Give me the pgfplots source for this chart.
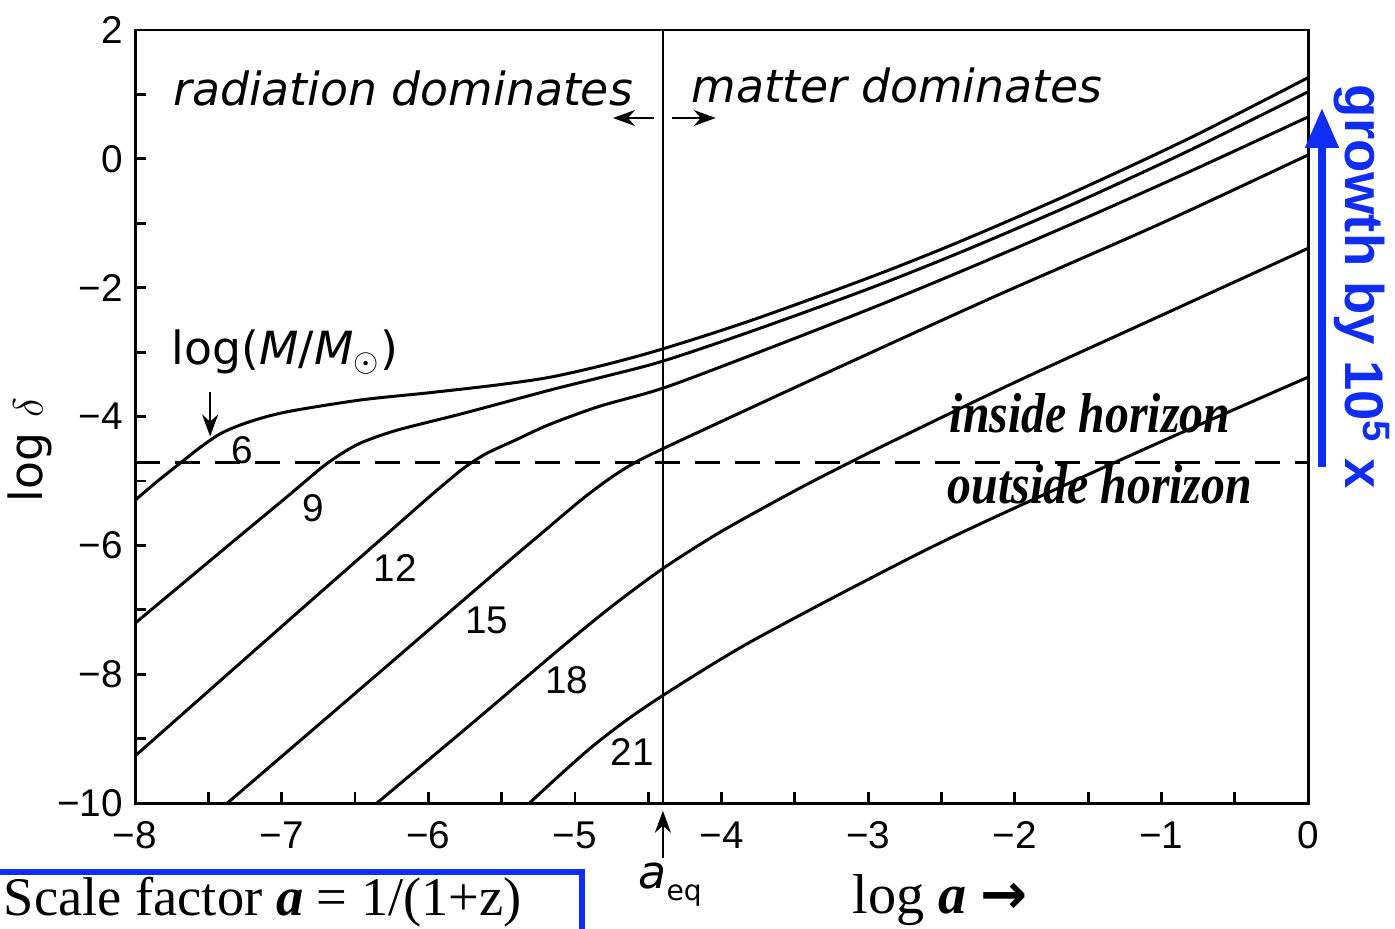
\documentclass[border=0pt]{standalone}
\usepackage{fontspec}
\setmainfont{Liberation Serif}
\newfontfamily\tickfont{Liberation Sans}
\newfontfamily\handfont{DejaVu Sans}
\newfontfamily\arrowfont{DejaVu Sans}
\usepackage{pgfplots}
\pgfplotsset{compat=1.18}
\usetikzlibrary{arrows.meta}
\definecolor{slideblue}{RGB}{15,45,245}

\pgfplotsset{dcurve/.style={black, line width=0.85pt, smooth, no markers}}

\begin{document}
\begin{tikzpicture}
\begin{axis}[
    scale only axis,
    width=117.3mm, height=77.3mm,
    xmin=-8, xmax=0, ymin=-10, ymax=2,
    clip=false,
    axis line style={line width=0.85pt},
    xtick={-8,-7,...,0},
    xticklabels={−8,−7,−6,−5,−4,−3,−2,−1,0},
    minor xtick={-7.5,-6.5,...,-0.5},
    ytick={-10,-8,...,2},
    yticklabels={−10,−8,−6,−4,−2,0,2},
    minor ytick={-9,-7,...,1},
    tick align=inside, tick pos=left,
    major tick length=1.1mm, minor tick length=1.1mm,
    tick style={line width=0.8pt, black},
    ticklabel style={font=\tickfont\fontsize{11}{13}\selectfont},
    xticklabel style={yshift=-0.6mm},
]
% horizon crossing level
\addplot[black, line width=0.85pt, dash pattern=on 2.5mm off 1.5mm] coordinates {(-8,-4.71) (0,-4.71)};

% log(M/Msun) = 6
\addplot[dcurve] table {
x y
-8.00 -5.30
-7.85 -5.01
-7.69 -4.72
-7.55 -4.47
-7.42 -4.27
-7.28 -4.13
-7.10 -4.00
-6.90 -3.90
-6.45 -3.74
-5.99 -3.63
-5.53 -3.51
-5.17 -3.39
-4.80 -3.20
-4.40 -2.95
-3.80 -2.51
-3.00 -1.85
-2.37 -1.28
-1.60 -0.52
-0.80 0.33
0.00 1.26
};
% 9
\addplot[dcurve] table {
x y
-8.00 -7.21
-7.40 -6.07
-6.95 -5.22
-6.72 -4.78
-6.58 -4.56
-6.45 -4.40
-6.21 -4.21
-5.76 -3.95
-5.17 -3.59
-4.80 -3.38
-4.40 -3.14
-3.80 -2.68
-3.00 -2.02
-2.37 -1.45
-1.60 -0.70
-0.80 0.14
0.00 1.04
};
% 12
\addplot[dcurve] table {
x y
-8.00 -9.27
-7.00 -7.26
-6.40 -6.06
-6.00 -5.26
-5.85 -4.97
-5.74 -4.77
-5.60 -4.57
-5.40 -4.36
-5.17 -4.12
-4.83 -3.84
-4.40 -3.56
-3.80 -3.05
-3.00 -2.34
-2.37 -1.75
-1.60 -1.00
-0.80 -0.19
0.00 0.65
};
% 15
\addplot[dcurve] table {
x y
-7.37 -10.00
-6.50 -8.30
-5.50 -6.34
-5.20 -5.76
-4.96 -5.30
-4.78 -4.99
-4.61 -4.74
-4.40 -4.50
-3.70 -3.76
-3.05 -3.08
-2.15 -2.15
-1.00 -1.00
0.00 0.06
};
% 18
\addplot[dcurve] table {
x y
-6.35 -10.00
-5.70 -8.76
-5.10 -7.60
-4.75 -6.95
-4.40 -6.36
-4.05 -5.85
-3.74 -5.45
-3.44 -5.08
-3.14 -4.73
-2.83 -4.38
-2.00 -3.47
-1.00 -2.43
0.00 -1.39
};
% 21
\addplot[dcurve] table {
x y
-5.31 -10.00
-5.10 -9.56
-4.88 -9.12
-4.64 -8.70
-4.40 -8.33
-4.05 -7.83
-3.74 -7.42
-3.06 -6.60
-2.37 -5.81
-1.11 -4.50
0.00 -3.39
};

% matter-radiation equality
\draw[black, line width=0.6pt] (axis cs:-4.40,-10) -- (axis cs:-4.40,2);
\draw[-{Stealth[length=2.2mm,width=1.6mm]}, line width=0.6pt] (axis cs:-4.46,0.634) -- (axis cs:-4.74,0.634);
\draw[-{Stealth[length=2.2mm,width=1.6mm]}, line width=0.6pt] (axis cs:-4.34,0.634) -- (axis cs:-4.04,0.634);
\draw[-{Stealth[length=2.2mm,width=1.6mm]}, line width=0.6pt] (axis cs:-4.40,-10.85) -- (axis cs:-4.40,-10.12);

\node[font=\handfont\itshape\fontsize{13}{15}\selectfont] at (axis cs:-6.172,1.10) {radiation dominates};
\node[font=\handfont\itshape\fontsize{13}{15}\selectfont] at (axis cs:-2.803,1.146) {matter dominates};
\node[font=\handfont\fontsize{13}{15}\selectfont] at (axis cs:-6.977,-3.00) {log(\textit{M}/\textit{M}$_{\odot}$)};
\draw[-{Stealth[length=2.2mm,width=1.6mm]}, line width=0.6pt] (axis cs:-7.488,-3.62) -- (axis cs:-7.488,-4.31);

\node[font=\tickfont\fontsize{11}{13}\selectfont] at (axis cs:-7.27,-4.52) {6};
\node[font=\tickfont\fontsize{11}{13}\selectfont] at (axis cs:-6.786,-5.42) {9};
\node[font=\tickfont\fontsize{11}{13}\selectfont] at (axis cs:-6.227,-6.35) {12};
\node[font=\tickfont\fontsize{11}{13}\selectfont] at (axis cs:-5.60,-7.16) {15};
\node[font=\tickfont\fontsize{11}{13}\selectfont] at (axis cs:-5.054,-8.09) {18};
\node[font=\tickfont\fontsize{11}{13}\selectfont] at (axis cs:-4.61,-9.21) {21};

\node[font=\fontsize{16}{18}\selectfont\bfseries\itshape, xscale=0.85] at (axis cs:-1.487,-3.945) {inside horizon};
\node[font=\fontsize{16}{18}\selectfont\bfseries\itshape, xscale=0.85] at (axis cs:-1.419,-5.06) {outside horizon};

\node[font=\handfont\fontsize{13}{15}\selectfont, rotate=90] at (axis cs:-8.716,-4.52) {log $\delta$};
\node[font=\handfont\itshape\fontsize{13}{15}\selectfont] at (axis cs:-4.35,-11.27) {a\raisebox{-0.5ex}{\upshape\fontsize{8}{8}\selectfont eq}};
\node[font=\fontsize{16}{18}\selectfont] at (axis cs:-2.51,-11.5) {log \textbf{\textit{a}} {\arrowfont\bfseries →}};

% slide annotations
\draw[slideblue, line width=2.2pt, -{Triangle[length=4mm,width=3.2mm]}] (axis cs:0.095,-4.78) -- (axis cs:0.095,0.79);
\node[font=\tickfont\bfseries\fontsize{15.5}{17}\selectfont, text=slideblue, rotate=-90] at (axis cs:0.368,-1.99) {growth by 10\textsuperscript{5} x};
\draw[slideblue, line width=1.7pt] (axis cs:-9.3,-12.6) rectangle (axis cs:-4.951,-11.07);
\node[font=\fontsize{15.5}{17}\selectfont, anchor=base west, inner sep=0pt] at (axis cs:-8.90,-11.74) {Scale factor \textbf{\textit{a}} = 1/(1+z)};

\coordinate (bbSW) at (axis cs:-8.921,-11.955);
\coordinate (bbNE) at (axis cs:0.593,2.466);
\end{axis}
\pgfresetboundingbox
\useasboundingbox (bbSW) rectangle (bbNE);
\end{tikzpicture}
\end{document}
